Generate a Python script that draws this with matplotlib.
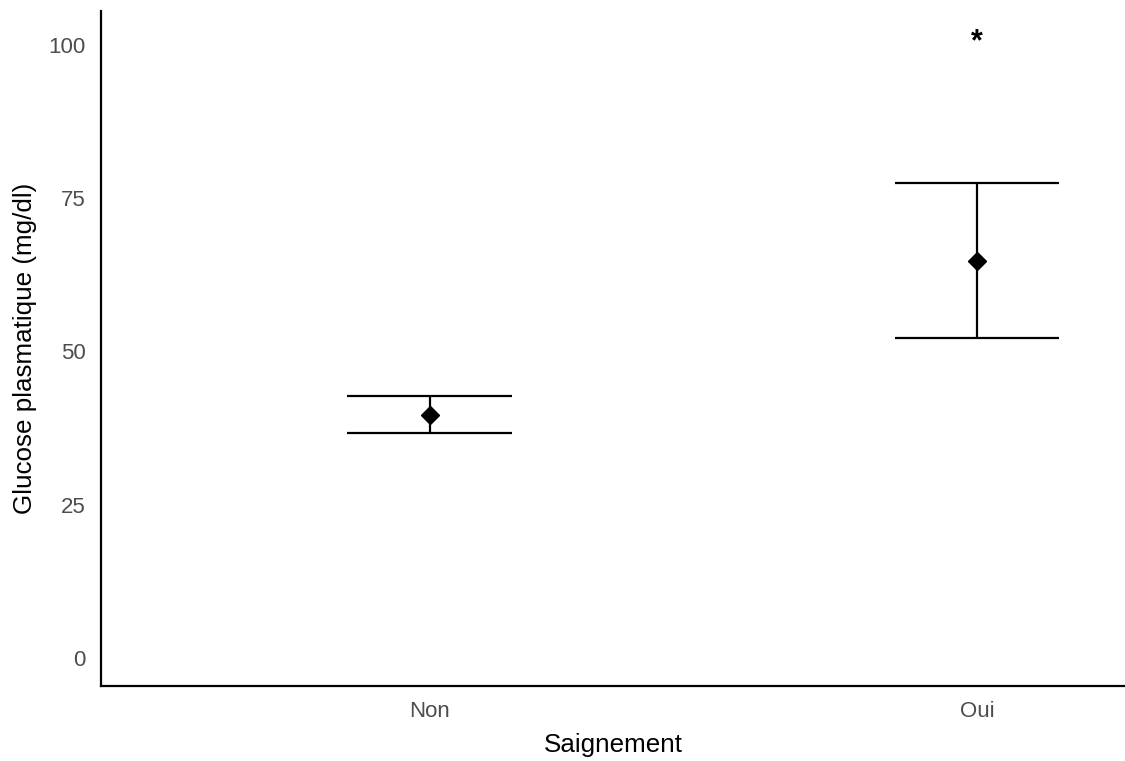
import numpy as np
import matplotlib.pyplot as plt

plt.rcParams["font.family"] = ["Liberation Sans", "DejaVu Sans"]

groups = ["Non", "Oui"]
means = [39.6, 64.8]
lower = [36.7, 52.2]
upper = [42.8, 77.4]
signif = ["", "*"]
signif_y = [None, 101.4]

x = np.arange(1, len(groups) + 1)
means = np.array(means)
err = np.array([means - np.array(lower), np.array(upper) - means])

fig = plt.figure(figsize=(11.25, 7.61), dpi=100)
ax = fig.add_axes([101 / 1125, 75 / 761, 1 - 101 / 1125, 675 / 761])

ax.errorbar(x, means, yerr=err, fmt="none", ecolor="black", elinewidth=1.6,
            capsize=0, zorder=2)
# wide horizontal caps, 0.3 units across
for xi, lo, hi in zip(x, lower, upper):
    ax.hlines([lo, hi], xi - 0.15, xi + 0.15, colors="black", linewidth=1.6)
ax.plot(x, means, linestyle="none", marker="D", markersize=9.5,
        color="black", zorder=3)

for xi, s, sy in zip(x, signif, signif_y):
    if s:
        ax.text(xi, sy - 1.0, s, ha="center", va="center", fontsize=22,
                fontweight="bold")

ax.set_xlim(0.4, 2.27)
ax.set_ylim(-4.57, 105.5)
ax.set_xticks(x)
ax.set_xticklabels(groups)
ax.set_yticks([0, 25, 50, 75, 100])

for side in ["top", "right"]:
    ax.spines[side].set_visible(False)
for side in ["left", "bottom"]:
    ax.spines[side].set_linewidth(1.6)
ax.tick_params(length=0, labelsize=16, labelcolor="#4D4D4D")
ax.tick_params(axis="y", pad=11)
ax.tick_params(axis="x", pad=11)

ax.set_xlabel("Saignement", fontsize=18.7, labelpad=8)
ax.set_ylabel("Glucose plasmatique (mg/dl)", fontsize=18.7, labelpad=8)

fig.savefig("out.png", dpi=100)
